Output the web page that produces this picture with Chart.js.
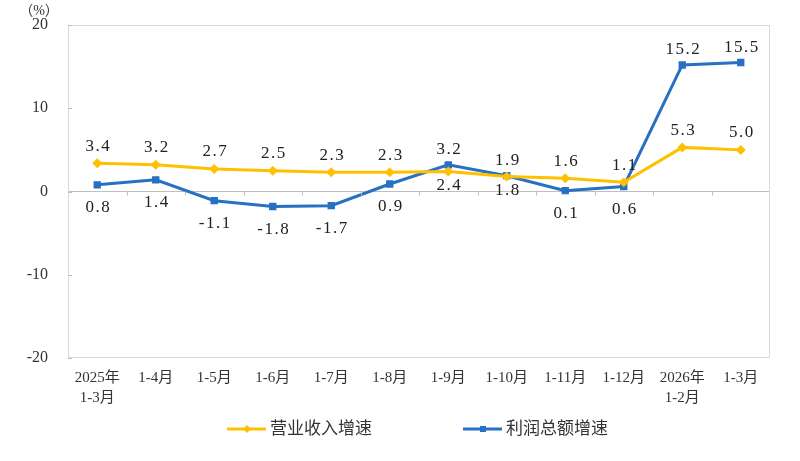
<!DOCTYPE html>
<html>
<head>
<meta charset="utf-8">
<script src="https://cdn.jsdelivr.net/npm/chart.js@4"></script>
<style>
  html, body { margin: 0; padding: 0; background: #fff; }
  #wrap { width: 800px; height: 461px; }
</style>
</head>
<body>
<div id="wrap"><canvas id="chart"></canvas></div>
<script>
// categories and series
const categories = [['2025年', '1-3月'], '1-4月', '1-5月', '1-6月', '1-7月', '1-8月', '1-9月',
  '1-10月', '1-11月', '1-12月', ['2026年', '1-2月'], '1-3月'];
const revenueGrowth = [3.4, 3.2, 2.7, 2.5, 2.3, 2.3, 2.4, 1.8, 1.6, 1.1, 5.3, 5.0];
const profitGrowth = [0.8, 1.4, -1.1, -1.8, -1.7, 0.9, 3.2, 1.9, 0.1, 0.6, 15.2, 15.5];
const yTicks = [-20, -10, 0, 10, 20];

// where each value label sits relative to its point
const revenueLabelPos = ['up', 'up', 'up', 'up', 'up', 'up', 'down', 'down', 'up', 'up', 'up', 'up'];
const profitLabelPos = ['down', 'down', 'down', 'down', 'down', 'down', 'up', 'up', 'down', 'down', 'up', 'up'];

const SERIF = "'Liberation Serif', 'Noto Sans CJK SC', serif";
const YELLOW = '#FFC000';
const BLUE = '#2770C2';

// frame, small ticks, value labels, (%) and legend
const decorPlugin = {
  id: 'decor',
  afterDraw(chart) {
    const ctx = chart.ctx;
    const area = chart.chartArea;
    const x = chart.scales.x;
    const y = chart.scales.y;
    const zeroY = y.getPixelForValue(0);
    ctx.save();

    // frame
    ctx.strokeStyle = '#d9d9d9';
    ctx.lineWidth = 1;
    ctx.strokeRect(area.left + 0.5, area.top + 0.5, area.right - area.left - 1, area.bottom - area.top - 1);

    // small tick marks
    ctx.strokeStyle = '#bfbfbf';
    ctx.beginPath();
    for (let i = 1; i < categories.length; i++) {
      const px = Math.round((x.getPixelForValue(i - 1) + x.getPixelForValue(i)) / 2) + 0.5;
      ctx.moveTo(px, zeroY);
      ctx.lineTo(px, zeroY + 4);
    }
    yTicks.forEach(v => {
      const py = Math.round(y.getPixelForValue(v)) + 0.5;
      ctx.moveTo(area.left, py);
      ctx.lineTo(area.left + 4, py);
    });
    ctx.stroke();

    // value labels
    ctx.font = '17px ' + SERIF;
    ctx.fillStyle = '#222';
    ctx.textAlign = 'center';
    ctx.textBaseline = 'middle';
    ctx.letterSpacing = '1.5px';
    const sets = [
      { values: revenueGrowth, pos: revenueLabelPos, up: -17, down: 14 },
      { values: profitGrowth, pos: profitLabelPos, up: -15, down: 23 }
    ];
    sets.forEach((s, di) => {
      const meta = chart.getDatasetMeta(di);
      meta.data.forEach((pt, i) => {
        const off = s.pos[i] === 'up' ? s.up : s.down;
        ctx.fillText(s.values[i].toFixed(1), pt.x + 1, pt.y + off);
      });
    });
    ctx.letterSpacing = '0px';

    // unit
    ctx.font = '14px ' + SERIF;
    ctx.fillStyle = '#333';
    ctx.fillText('（%）', 39, 11);

    // legend
    const legendY = 429;
    let lx = 227;
    ctx.textAlign = 'left';
    ctx.font = '17px ' + SERIF;
    chart.data.datasets.forEach(ds => {
      ctx.strokeStyle = ds.borderColor;
      ctx.lineWidth = 3;
      ctx.beginPath();
      ctx.moveTo(lx, legendY);
      ctx.lineTo(lx + 39, legendY);
      ctx.stroke();
      ctx.fillStyle = ds.backgroundColor;
      const r = 3;
      const cx = lx + 20;
      ctx.beginPath();
      if (ds.pointStyle === 'rectRot') {
        ctx.moveTo(cx, legendY - r - 1);
        ctx.lineTo(cx + r + 1, legendY);
        ctx.lineTo(cx, legendY + r + 1);
        ctx.lineTo(cx - r - 1, legendY);
        ctx.closePath();
      } else {
        ctx.rect(cx - r, legendY - r, 2 * r, 2 * r);
      }
      ctx.fill();
      ctx.fillStyle = '#333';
      ctx.fillText(ds.label, lx + 43, legendY + 1);
      lx += 236;
    });

    ctx.restore();
  }
};

new Chart(document.getElementById('chart'), {
  type: 'line',
  data: {
    labels: categories,
    datasets: [
      {
        label: '营业收入增速',
        data: revenueGrowth,
        borderColor: YELLOW,
        backgroundColor: YELLOW,
        borderWidth: 3,
        pointStyle: 'rectRot',
        pointRadius: 5,
        pointBorderWidth: 0,
        tension: 0
      },
      {
        label: '利润总额增速',
        data: profitGrowth,
        borderColor: BLUE,
        backgroundColor: BLUE,
        borderWidth: 3,
        pointStyle: 'rect',
        pointRadius: 5.2,
        pointBorderWidth: 0,
        tension: 0
      }
    ]
  },
  options: {
    responsive: true,
    maintainAspectRatio: false,
    animation: false,
    layout: { padding: { top: 25, right: 30, left: 0, bottom: 0 } },
    plugins: {
      legend: { display: false },
      tooltip: { enabled: false }
    },
    scales: {
      x: {
        offset: true,
        grid: { display: false, drawTicks: false },
        border: { display: false },
        ticks: {
          padding: 11,
          maxRotation: 0,
          autoSkip: false,
          color: '#333',
          font: { family: SERIF, size: 15, lineHeight: 1.27 }
        },
        afterFit(scale) {
          scale.height = 103;
          scale.paddingLeft = 0;
          scale.paddingRight = 0;
        }
      },
      y: {
        min: -20,
        max: 20,
        afterBuildTicks(scale) { scale.ticks = yTicks.map(v => ({ value: v })); },
        grid: {
          drawTicks: false,
          color: c => (c.tick && c.tick.value === 0 ? '#bfbfbf' : 'rgba(0,0,0,0)')
        },
        border: { display: false },
        ticks: {
          padding: 20,
          color: '#333',
          font: { family: SERIF, size: 16 }
        },
        afterFit(scale) {
          scale.width = 68;
          // tick padding is otherwise added above and below the axis
          scale.paddingTop = 0;
          scale.paddingBottom = 0;
        }
      }
    }
  },
  plugins: [decorPlugin]
});
</script>
</body>
</html>
